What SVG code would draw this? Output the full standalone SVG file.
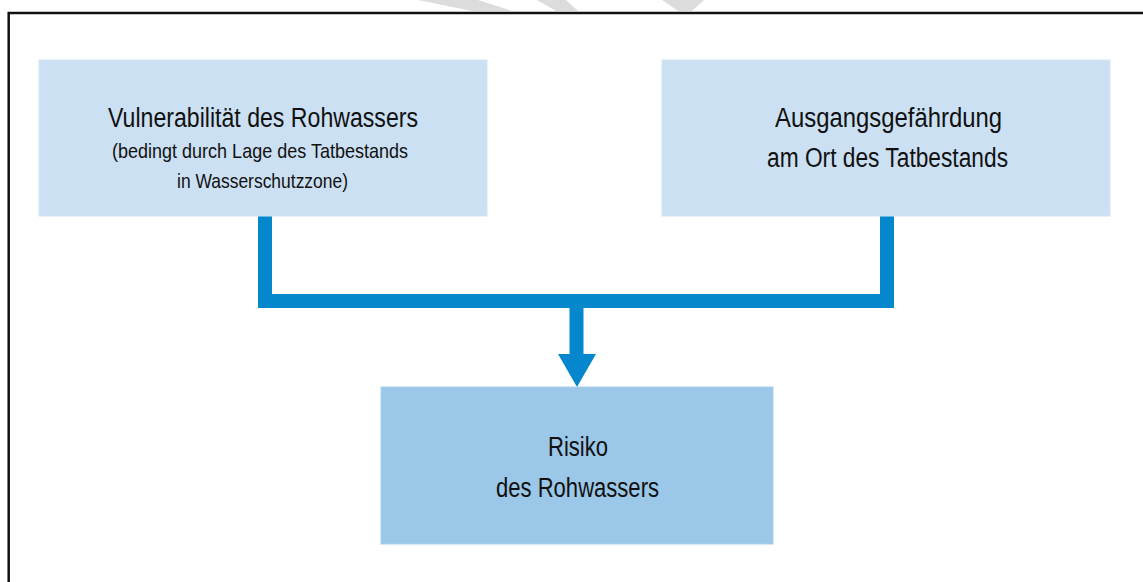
<svg xmlns="http://www.w3.org/2000/svg" width="1143" height="582" viewBox="0 0 1143 582">
  <style>
    .box-light { fill: #CBE0F3; stroke: #D3E5F5; stroke-width: 1; }
    .box-dark { fill: #9BC7E8; stroke: #A9CFEC; stroke-width: 1; }
    .t { font-family: "Liberation Sans", Arial, sans-serif; fill: #111111; text-anchor: middle; }
    .big { font-size: 27px; }
    .small { font-size: 21px; }
    .conn { fill: none; stroke: #0587CE; stroke-width: 14; stroke-linejoin: miter; stroke-linecap: butt; }
    .wm { fill: #DCDCDC; }
  </style>
  <rect width="1143" height="582" fill="#FFFFFF"/>
  <g id="watermark">
    <polygon class="wm" points="418,0 478,0 512,11 472,11"/>
    <polygon class="wm" points="537,0 566,0 578,11 556,11"/>
    <polygon class="wm" points="662,0 704,0 692,11 678,11"/>
  </g>
  <g id="frame">
    <path d="M8.7,582 V13 H1143" fill="none" stroke="#111111" stroke-width="2.5"/>
  </g>
  <g id="connectors">
    <path class="conn" d="M265,216 V301 H887 V216"/>
    <path class="conn" d="M576.5,308 V355"/>
    <polygon points="558,354 596,354 577,387" fill="#0587CE"/>
  </g>
  <g id="node-vulnerabilitaet">
    <rect class="box-light" x="39" y="60" width="448" height="156"/>
    <text class="t big" x="263" y="127" textLength="310" lengthAdjust="spacingAndGlyphs">Vulnerabilität des Rohwassers</text>
    <text class="t small" x="260" y="158" textLength="296" lengthAdjust="spacingAndGlyphs">(bedingt durch Lage des Tatbestands</text>
    <text class="t small" x="262.5" y="188" textLength="171" lengthAdjust="spacingAndGlyphs">in Wasserschutzzone)</text>
  </g>
  <g id="node-ausgangsgefaehrdung">
    <rect class="box-light" x="662" y="60" width="448" height="156"/>
    <text class="t big" x="888.5" y="127" textLength="227" lengthAdjust="spacingAndGlyphs">Ausgangsgefährdung</text>
    <text class="t big" x="887.5" y="167" textLength="241" lengthAdjust="spacingAndGlyphs">am Ort des Tatbestands</text>
  </g>
  <g id="node-risiko">
    <rect class="box-dark" x="381" y="387" width="392" height="157"/>
    <text class="t big" x="578" y="456" textLength="60" lengthAdjust="spacingAndGlyphs">Risiko</text>
    <text class="t big" x="577.5" y="497" textLength="163" lengthAdjust="spacingAndGlyphs">des Rohwassers</text>
  </g>
</svg>
